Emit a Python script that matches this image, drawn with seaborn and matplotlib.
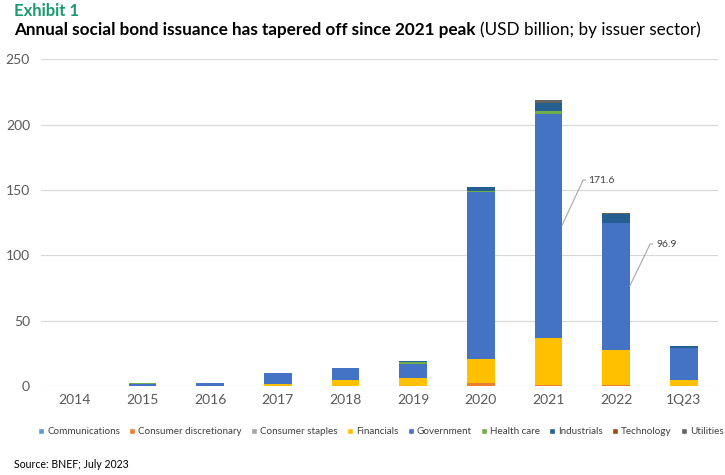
import numpy as np
import pandas as pd
import matplotlib
matplotlib.use("Agg")
import matplotlib.pyplot as plt
import seaborn as sns
from matplotlib.patches import Patch

# Data (USD billion)
periods = ["2014", "2015", "2016", "2017", "2018", "2019", "2020", "2021", "2022", "1Q23"]
sectors = ["Communications", "Consumer discretionary", "Consumer staples", "Financials",
           "Government", "Health care", "Industrials", "Technology", "Utilities"]
communications = [0, 0, 0, 0, 0, 0, 0, 0, 0, 0]
consumer_disc = [0, 0, 0, 0, 0, 0, 2.0, 0.8, 0.5, 0]
consumer_staples = [0, 0, 0, 0, 0, 0, 0, 0, 0, 0]
financials = [0, 0.3, 0, 1.8, 4.6, 5.9, 19.0, 36.0, 27.3, 4.3]
government = [0, 1.3, 2.0, 8.2, 9.2, 11.2, 127.5, 171.6, 96.9, 24.7]
health_care = [0, 0.6, 0, 0, 0, 1.0, 0.8, 2.0, 0, 0]
industrials = [0, 0, 0, 0.2, 0, 1.0, 3.2, 6.0, 6.6, 1.8]
technology = [0, 0, 0, 0, 0, 0, 0, 0, 0.2, 0]
utilities = [0, 0, 0, 0, 0, 0, 0, 2.4, 1.2, 0]

colors = ["#5B9BD5", "#ED7D31", "#A5A5A5", "#FFC000", "#4472C4",
          "#70AD47", "#255E91", "#9E480E", "#636363"]

df = pd.DataFrame({
    "period": periods,
    "Communications": communications,
    "Consumer discretionary": consumer_disc,
    "Consumer staples": consumer_staples,
    "Financials": financials,
    "Government": government,
    "Health care": health_care,
    "Industrials": industrials,
    "Technology": technology,
    "Utilities": utilities,
})

sns.set_style("white")
plt.rcParams["font.family"] = ["Lato", "DejaVu Sans"]

fig = plt.figure(figsize=(7.25, 4.75), dpi=100)
ax = fig.add_axes([0.0566, 0.1874, 0.9334, 0.6878])

# stacked bars, one sector at a time
bottom = np.zeros(len(periods))
for sec, col in zip(sectors, colors):
    sns.barplot(data=df, x="period", y=sec, color=col, width=0.41, bottom=bottom,
                saturation=1, ax=ax, order=periods, linewidth=0)
    bottom += df[sec].values

ax.set_ylim(0, 250)
ax.set_yticks(range(0, 251, 50))
ax.set_xlim(-0.5, len(periods) - 0.5)
ax.set_xlabel("")
ax.set_ylabel("")
ax.grid(axis="y", color="#d9d9d9", linewidth=0.9)
ax.set_axisbelow(True)
for s in ax.spines.values():
    s.set_visible(False)
ax.tick_params(axis="both", length=0, labelsize=10, labelcolor="#595959")
ax.tick_params(axis="y", pad=8)
ax.tick_params(axis="x", pad=6)

# leader-line labels for government values
ax.plot([7.2, 7.51, 7.55], [123, 157.6, 157.6], color="#a6a6a6", lw=0.8)
ax.text(7.59, 157.6, "171.6", fontsize=7.5, color="#404040", va="center")
ax.plot([8.2, 8.5, 8.54], [76.5, 108.6, 108.6], color="#a6a6a6", lw=0.8)
ax.text(8.6, 108.6, "96.9", fontsize=7.5, color="#404040", va="center")

# legend
handles = [Patch(facecolor=c, label=s) for s, c in zip(sectors, colors)]
fig.legend(handles=handles, loc="center", bbox_to_anchor=(381 / 725, 1 - 432 / 475), ncol=9,
           frameon=False, fontsize=7.1, handlelength=0.6, handleheight=0.6,
           handletextpad=0.3, columnspacing=0.95, labelcolor="#404040")

# titles
fig.text(14 / 725, 1 - 11 / 475, "Exhibit 1", fontsize=12, fontweight="bold",
         color="#1a9a6e", va="center")
t1 = fig.text(14 / 725, 1 - 30 / 475, "Annual social bond issuance has tapered off since 2021 peak",
              fontsize=12.3, fontweight="bold", color="black", va="center")
fig.canvas.draw()
bb = t1.get_window_extent()
fig.text(bb.x1 / 725 + 5 / 725, 1 - 30 / 475, "(USD billion; by issuer sector)",
         fontsize=12.3, color="black", va="center")

fig.text(14 / 725, 1 - 465 / 475, "Source: BNEF; July 2023", fontsize=7.6,
         color="black", va="center")

fig.savefig("out.png", dpi=100)
